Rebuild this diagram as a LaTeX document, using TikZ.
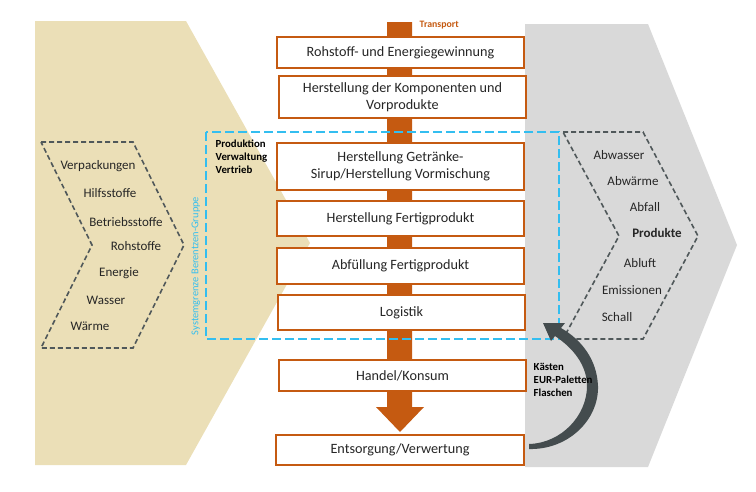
\documentclass[tikz,border=0pt]{standalone}
\usepackage{fontspec}
\setmainfont{Carlito}
\usetikzlibrary{positioning}

\definecolor{barorange}{RGB}{197,90,17}
\definecolor{inputtan}{RGB}{235,223,183}
\definecolor{outputgray}{RGB}{217,217,217}
\definecolor{sysblue}{RGB}{51,190,240}
\definecolor{loopgray}{RGB}{68,76,78}
\definecolor{dashgray}{RGB}{80,88,90}

\begin{document}
\begin{tikzpicture}[x=1pt,y=-1pt,thick,
 stage/.style={draw=barorange,line width=2.5pt,fill=white,minimum width=247pt,
  align=center,text=black!85,font=\fontsize{14.2}{17}\selectfont},
 flow label/.style={text=black!85,font=\fontsize{13}{15}\selectfont},
 small bold/.style={anchor=west,align=left,text=black,font=\bfseries\fontsize{10.8}{13}\selectfont},
 side chevron/.style={draw=dashgray,line width=1.6pt,dash pattern=on 5pt off 3pt}]
  \useasboundingbox (0,0) rectangle (756,491);

  % background fields
  \fill[inputtan] (35,21) -- (186,21) -- (310,243) -- (186,465) -- (35,465) -- cycle;
  \fill[outputgray] (525,24) -- (648,24) -- (737,245) -- (648,467) -- (525,467) -- cycle;

  % transport bar
  \coordinate (transport) at (400,22);
  \fill[barorange] (387,22) -- (412,22) -- (412,407) -- (424,407) -- (400,432)
   -- (376,407) -- (387,407) -- cycle;
  \node[anchor=west,text=barorange,font=\bfseries\fontsize{9.8}{11}\selectfont] (tlabel) at (416,25) {Transport};

  % stages
  \node[stage,minimum height=31pt] (s1) at (400.5,52.5) {Rohstoff- und Energiegewinnung};
  \node[stage,minimum height=42pt] (s2) at (402.5,97) {Herstellung der Komponenten und\\Vorprodukte};
  \node[stage,minimum height=47pt] (s3) at (400.5,166.5) {Herstellung Getränke-\\Sirup/Herstellung Vormischung};
  \node[stage,minimum height=35pt] (s4) at (400.5,218.5) {Herstellung Fertigprodukt};
  \node[stage,minimum height=36pt] (s5) at (400.5,266) {Abfüllung Fertigprodukt};
  \node[stage,minimum height=35pt] (s6) at (401.5,312.5) {Logistik};
  \node[stage,minimum height=31pt] (s7) at (402.5,375.5) {Handel/Konsum};
  \node[stage,minimum height=30pt,minimum width=248pt] (s8) at (400,450) {Entsorgung/Verwertung};

  % system boundary
  \draw[sysblue,line width=2.5pt,dash pattern=on 9pt off 4pt] (206,132) rectangle (559,339);
  \node[rotate=90,text=sysblue,font=\fontsize{10.4}{12}\selectfont] (sys) at (196,266) {Systemgrenze Berentzen-Gruppe};
  \node[small bold] (dept) at (212,157) {Produktion\\Verwaltung\\Vertrieb};

  % inputs
  \draw[side chevron] (41,142) -- (133,142) -- (184,245) -- (133,348) -- (41,348) -- (92,245) -- cycle;
  \foreach \i/\x/\y/\t in {1/98/166/Verpackungen, 2/110/193/Hilfsstoffe, 3/126/222/Betriebsstoffe,
   4/136/246/Rohstoffe, 5/119/273/Energie, 6/106/300/Wasser, 7/90/326/Wärme}
   \node[flow label] (in\i) at (\x,\y) {\t};

  % outputs
  \draw[side chevron] (563,132) -- (643,132) -- (698,236) -- (643,339) -- (563,339) -- (619,236) -- cycle;
  \foreach \i/\x/\y/\t in {1/619/155/Abwasser, 2/633/181/Abwärme, 3/645/207/Abfall,
   4/657/233/\textbf{Produkte}, 5/640/263/Abluft, 6/632/290/Emissionen, 7/617/317/Schall}
   \node[flow label] (out\i) at (\x,\y) {\t};

  % return loop
  \fill[loopgray] (529,449) .. controls (568,450) and (599,420) .. (598,386)
   .. controls (597,360) and (582,340) .. (561,328) -- (565,323) -- (543,323)
   -- (551,341) -- (555,336) .. controls (573,348) and (587,365) .. (587,386)
   .. controls (587,415) and (562,443) .. (529,444) -- cycle;
  \node[small bold] (reuse) at (530,380) {Kästen\\EUR-Paletten\\Flaschen};
\end{tikzpicture}
\end{document}
